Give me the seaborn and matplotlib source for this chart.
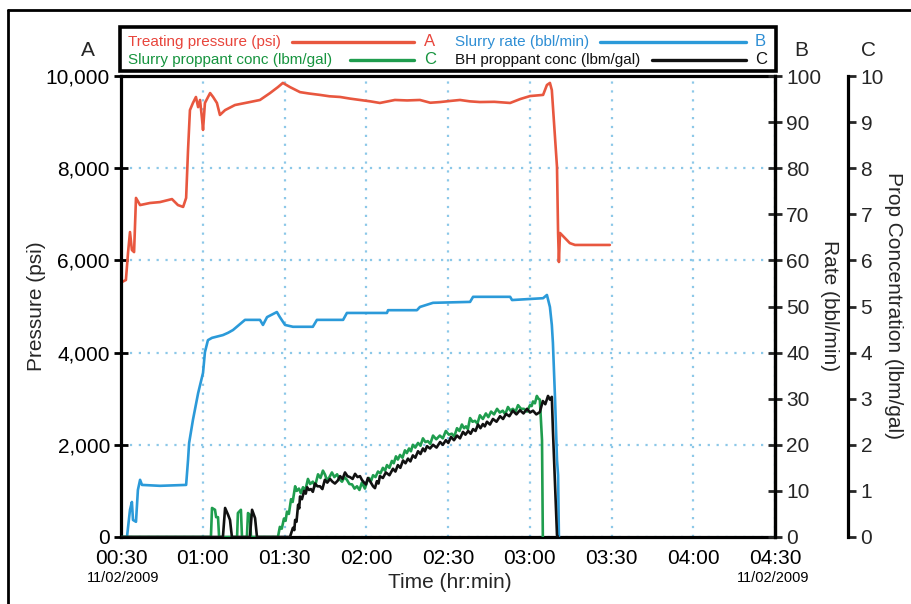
import matplotlib
matplotlib.use("Agg")
import matplotlib.pyplot as plt
import seaborn as sns
from matplotlib.lines import Line2D
from matplotlib.patches import Rectangle
import matplotlib.transforms as mtransforms

# ---------------- data (time in minutes after 00:00) ----------------
press_t = [30.3, 31.8, 32.6, 33.3, 34.0, 34.8, 35.5, 37.0, 40.6, 44.3, 48.7, 50.9, 52.8, 53.9,
           54.6, 55.3, 56.4, 57.5, 58.3, 59.0, 59.7, 60.1, 60.8, 62.7, 63.8, 65.2, 66.3, 68.2,
           71.8, 77.3, 81.0, 84.7, 87.6, 89.4, 92.0, 95.7, 99.0, 103.0, 106.5, 110.4, 114.0,
           117.7, 121.5, 125.0, 130.5, 135.0, 139.7, 143.5, 147.1, 151.0, 154.4, 158.0, 161.7,
           167.0, 172.8, 176.5, 180.1, 184.9, 186.3, 187.4, 188.1, 190.0, 190.4,
           190.7, 191.1, 194.7, 196.6, 209.4]
press_psi = [5530, 5575, 6180, 6615, 6225, 6180, 7355, 7200, 7245, 7265, 7330, 7200, 7160, 7355,
             8395, 9260, 9415, 9545, 9325, 9480, 9090, 8830, 9415, 9630, 9545, 9415, 9155, 9260,
             9370, 9435, 9480, 9630, 9760, 9850, 9760, 9650, 9620, 9590, 9560, 9545, 9510,
             9480, 9450, 9415, 9480, 9470, 9480, 9420, 9435, 9460, 9480, 9450, 9435,
             9440, 9415, 9500, 9565, 9590, 9805, 9850, 9695, 8025, 6595,
             5965, 6595, 6375, 6335, 6335]

rate_t = [30.7, 32.2, 33.3, 34.0, 34.4, 35.5, 36.2, 37.0, 37.7, 44.3, 53.9, 54.6, 55.0, 56.4,
          58.3, 60.1, 60.8, 61.9, 63.4, 67.4, 69.3, 71.1, 75.5, 81.0, 82.1, 83.6, 87.2, 88.3,
          90.2, 93.1, 100.4, 101.9, 111.5, 112.9, 127.6, 128.0, 138.6, 139.7, 144.5, 158.1,
          159.2, 172.8, 173.5, 184.9, 186.3, 187.4, 188.1, 188.5, 189.3, 190.0, 190.4, 190.7]
rate_bpm = [0, 0, 5.9, 7.6, 3.7, 3.3, 10.2, 12.4, 11.3, 11.1, 11.3, 16.7, 20.4, 25.4,
            31.2, 35.6, 40.1, 42.7, 43.2, 43.8, 44.3, 44.9, 47.1, 47.1, 46.0, 47.7, 48.8, 47.7,
            46.0, 45.6, 45.6, 47.1, 47.1, 48.6, 48.6, 49.2, 49.2, 49.9, 50.8, 51.0,
            52.1, 52.1, 51.4, 51.8, 52.5, 49.9, 46.0, 42.1, 29.7, 16.7, 13.4, 0]

slurry_t = [30.0, 63.0, 63.4, 64.5, 64.9, 65.6, 66.0, 72.6, 72.9, 74.0, 74.4, 76.2, 76.6, 77.3,
            77.7, 87.6, 88.3, 89.0, 89.8, 90.4, 90.9, 91.6, 92.4, 93.0, 93.9, 94.5, 95.3, 96.0,
            96.8, 97.6, 98.6, 99.4, 100.4, 101.2, 102.3, 103.2, 104.1, 104.9, 105.6, 106.5,
            107.4, 108.3, 109.3, 110.2, 111.1, 112.0, 112.9, 113.8, 114.8, 115.7, 116.6, 117.5,
            118.4, 119.5, 120.3, 121.0, 121.8, 122.5, 123.4, 124.3, 125.2, 126.1, 126.9, 127.6,
            128.5, 129.4, 130.1, 130.9, 131.6, 132.4, 133.3, 134.2, 134.9, 135.7, 136.4, 137.1,
            138.0, 139.0, 139.9, 140.8, 141.7, 142.6, 143.5, 144.5, 145.7, 147.0, 148.1, 149.2,
            150.3, 151.4, 152.3, 153.3, 154.2, 155.1, 155.9, 156.6, 157.3, 158.1, 159.0, 159.9,
            160.8, 161.7, 162.8, 163.9, 164.8, 165.8, 166.9, 168.0, 169.0, 170.1, 171.0, 172.0,
            172.9, 173.8, 174.8, 175.7, 176.8, 177.9, 179.0, 180.1, 180.7, 181.2, 181.9, 182.6,
            183.2, 183.7, 184.1, 184.5, 184.8]
slurry_conc = [0, 0, 0.63, 0.59, 0.43, 0.43, 0, 0, 0.52, 0.59, 0, 0, 0.52, 0.48,
               0, 0, 0.22, 0.18, 0.40, 0.35, 0.55, 0.50, 0.82, 0.76, 1.10, 1.00, 1.05, 0.95,
               1.08, 1.00, 1.26, 1.15, 1.20, 1.10, 1.36, 1.28, 1.44, 1.35, 1.22, 1.30,
               1.40, 1.30, 1.36, 1.25, 1.20, 1.30, 1.24, 1.15, 1.14, 1.05, 1.10, 1.02,
               1.18, 1.05, 1.20, 1.28, 1.22, 1.34, 1.30, 1.42, 1.38, 1.50, 1.44, 1.56,
               1.50, 1.65, 1.60, 1.75, 1.68, 1.78, 1.72, 1.88, 1.82, 1.92, 1.86, 2.00,
               1.94, 2.04, 1.98, 2.14, 2.06, 2.08, 2.02, 2.20, 2.12, 2.20, 2.14, 2.30,
               2.22, 2.24, 2.18, 2.36, 2.30, 2.44, 2.36, 2.40, 2.34, 2.58, 2.50, 2.52,
               2.46, 2.64, 2.56, 2.68, 2.60, 2.72, 2.66, 2.78, 2.70, 2.74, 2.66, 2.82,
               2.74, 2.78, 2.72, 2.86, 2.78, 2.78, 2.72, 2.86, 2.84, 2.94, 2.90, 3.06,
               3.00, 2.98, 2.54, 2.10, 0]

bh_t = [30.0, 67.4, 68.2, 69.3, 70.0, 70.7, 77.3, 78.1, 79.2, 79.9, 92.0, 93.1, 93.6, 93.9,
        94.4, 95.0, 95.4, 95.7, 96.4, 97.2, 97.8, 98.3, 99.0, 99.7, 100.4, 101.2, 102.1, 103.0,
        103.9, 104.8, 105.7, 106.7, 107.6, 108.5, 109.5, 110.4, 111.3, 112.2, 113.1, 114.0,
        115.0, 115.9, 116.8, 117.7, 118.4, 119.2, 119.9, 120.6, 121.5, 122.5, 123.2, 123.9,
        124.5, 125.0, 126.1, 127.2, 128.5, 129.8, 130.7, 131.6, 132.5, 133.5, 134.4, 135.3,
        136.2, 137.1, 138.0, 139.0, 139.9, 140.8, 141.5, 142.3, 143.4, 144.5, 145.8, 147.1,
        148.1, 149.2, 150.1, 151.1, 152.2, 153.3, 154.4, 155.5, 156.4, 157.4, 158.3, 159.2,
        160.1, 161.0, 161.9, 162.8, 163.5, 164.3, 165.4, 166.5, 167.8, 169.1, 170.2, 171.3,
        172.5, 173.8, 175.1, 176.4, 177.7, 179.0, 180.1, 181.2, 182.4, 183.7, 184.2, 184.8,
        185.7, 186.7, 187.4, 188.1, 188.5, 190.0, 190.4]
bh_conc = [0, 0, 0.63, 0.48, 0.37, 0, 0, 0.59, 0.41, 0, 0, 0.20, 0.15, 0.37,
           0.33, 0.70, 0.62, 0.88, 0.82, 1.00, 0.94, 1.08, 1.02, 1.04, 0.98, 1.16, 1.10, 1.10,
           1.04, 1.24, 1.18, 1.26, 1.20, 1.16, 1.22, 1.32, 1.26, 1.40, 1.32, 1.30,
           1.26, 1.37, 1.30, 1.32, 1.24, 1.18, 1.14, 1.28, 1.20, 1.10, 1.06, 1.21,
           1.16, 1.32, 1.28, 1.40, 1.34, 1.48, 1.42, 1.56, 1.50, 1.66, 1.60, 1.70,
           1.64, 1.77, 1.72, 1.86, 1.80, 1.92, 1.86, 1.97, 1.92, 2.00, 1.94, 2.06,
           2.00, 2.10, 2.04, 2.17, 2.10, 2.20, 2.14, 2.28, 2.22, 2.30, 2.24, 2.34,
           2.30, 2.44, 2.36, 2.45, 2.40, 2.50, 2.44, 2.56, 2.50, 2.62, 2.56, 2.67,
           2.62, 2.74, 2.66, 2.75, 2.68, 2.78, 2.70, 2.74, 2.66, 2.71, 2.82, 2.95,
           2.88, 3.06, 2.98, 3.04, 2.32, 0.04, 0]

time_ticks = [30, 60, 90, 120, 150, 180, 210, 240, 270]
time_labels = ["00:30", "01:00", "01:30", "02:00", "02:30", "03:00", "03:30", "04:00", "04:30"]
press_ticks = [0, 2000, 4000, 6000, 8000, 10000]
press_labels = ["0", "2,000", "4,000", "6,000", "8,000", "10,000"]
rate_ticks = [0, 10, 20, 30, 40, 50, 60, 70, 80, 90, 100]
conc_ticks = [0, 1, 2, 3, 4, 5, 6, 7, 8, 9, 10]
date_label = "11/02/2009"

RED = "#E8573F"
BLUE = "#2B9AD9"
GREEN = "#1F9D4E"
BLACK = "#111111"
RED_T = "#E8453C"
BLUE_T = "#2E8ED4"
GREEN_T = "#17943F"
GRID = "#8CC8E8"

sns.set_theme(style="white")
plt.rcParams['font.family'] = ['Liberation Sans', 'DejaVu Sans']

W, H = 911, 604
fig = plt.figure(figsize=(W / 100, H / 100), dpi=100)
ax = fig.add_axes([121 / W, 1 - 537 / H, 654 / W, 461 / H])
ax2 = ax.twinx()
ax3 = ax.twinx()

lw = 1.9
sns.lineplot(x=press_t, y=press_psi, ax=ax, color=RED, linewidth=lw, estimator=None, sort=False)
sns.lineplot(x=rate_t, y=rate_bpm, ax=ax2, color=BLUE, linewidth=lw, estimator=None, sort=False)
sns.lineplot(x=slurry_t, y=slurry_conc, ax=ax3, color=GREEN, linewidth=lw, estimator=None, sort=False)
sns.lineplot(x=bh_t, y=bh_conc, ax=ax3, color=BLACK, linewidth=lw, estimator=None, sort=False)

ax.set_xlim(30, 270)
ax.set_ylim(0, 10000)
ax2.set_ylim(0, 100)
ax3.set_ylim(0, 10)

ax.set_xticks(time_ticks)
ax.set_xticklabels(time_labels)
ax.set_yticks(press_ticks)
ax.set_yticklabels(press_labels)
ax2.set_yticks(rate_ticks)
ax3.set_yticks(conc_ticks)
for a in (ax, ax2, ax3):
    a.set_xlabel("")
    a.set_ylabel("")

ax.grid(True, color=GRID, linestyle=(0, (1, 3)), linewidth=1.6)
ax.set_axisbelow(True)

spw = 2.3
for s in ax.spines.values():
    s.set_linewidth(spw)
    s.set_color("black")
for name, s in ax2.spines.items():
    s.set_visible(name == "right")
    s.set_linewidth(spw)
    s.set_color("black")
for name, s in ax3.spines.items():
    s.set_visible(name == "right")
    s.set_linewidth(spw)
    s.set_color("black")
ax3.spines["right"].set_position(("axes", (848 - 121) / 654))

fs = 15
ax.tick_params(axis="both", direction="inout", length=10, width=2, colors="black",
               labelsize=fs, pad=3)
ax.tick_params(axis="x", pad=4)
ax2.tick_params(axis="y", direction="inout", length=10, width=2, labelsize=fs, pad=3)
ax3.tick_params(axis="y", direction="out", length=6, width=2, labelsize=fs, pad=3)

# dates under first and last x ticks
bt = mtransforms.blended_transform_factory(ax.transData, ax.transAxes)
ax.text(time_ticks[0] + 0.6, -0.089, date_label, transform=bt, ha="center", va="center",
        fontsize=10.5, color="black")
ax.text(time_ticks[-1] - 0.6, -0.089, date_label, transform=bt, ha="center", va="center",
        fontsize=10.5, color="black")


def px(x, y):
    return x / W, 1 - y / H


fig.text(*px(450, 583), "Time (hr:min)", ha="center", va="center", fontsize=fs)
fig.text(*px(37, 306), "Pressure (psi)", ha="center", va="center", fontsize=fs, rotation=90)
fig.text(*px(829, 306), "Rate (bbl/min)", ha="center", va="center", fontsize=fs, rotation=-90)
fig.text(*px(894, 306), "Prop Concentration (lbm/gal)", ha="center", va="center",
         fontsize=fs, rotation=-90)
fig.text(*px(88, 51), "A", ha="center", va="center", fontsize=fs)
fig.text(*px(801, 51), "B", ha="center", va="center", fontsize=fs)
fig.text(*px(869, 51), "C", ha="center", va="center", fontsize=fs)

# outer frame (top and left)
fig.add_artist(Line2D([8 / W, 8 / W], [0, 1 - 10 / H], transform=fig.transFigure,
                      color="black", linewidth=2))
fig.add_artist(Line2D([8 / W, 1], [1 - 10 / H, 1 - 10 / H], transform=fig.transFigure,
                      color="black", linewidth=2))

# legend box
x0, y0 = px(120, 71)
x1, y1 = px(776, 27)
fig.add_artist(Rectangle((x0, y0), x1 - x0, y1 - y0, transform=fig.transFigure,
                         facecolor="white", edgecolor="black", linewidth=2.6))
lfs = 11
entries = [
    ("Treating pressure (psi)", RED_T, RED, "A", 128, 42, 292, 414, 424),
    ("Slurry rate (bbl/min)", BLUE_T, BLUE, "B", 455, 42, 600, 746, 755),
    ("Slurry proppant conc (lbm/gal)", GREEN_T, GREEN, "C", 128, 60, 350, 414, 424),
    ("BH proppant conc (lbm/gal)", BLACK, BLACK, "C", 455, 60, 652, 746, 755),
]
for label, tc, lc, letter, tx, ty, l0, l1, lx in entries:
    fig.text(*px(tx, ty), label, color=tc, fontsize=lfs, ha="left", va="center")
    fig.add_artist(Line2D([l0 / W, l1 / W], [1 - ty / H, 1 - ty / H], transform=fig.transFigure,
                          color=lc, linewidth=2.4))
    fig.text(*px(lx, ty), letter, color=tc, fontsize=lfs + 1, ha="left", va="center")

fig.savefig("out.png", dpi=100)
